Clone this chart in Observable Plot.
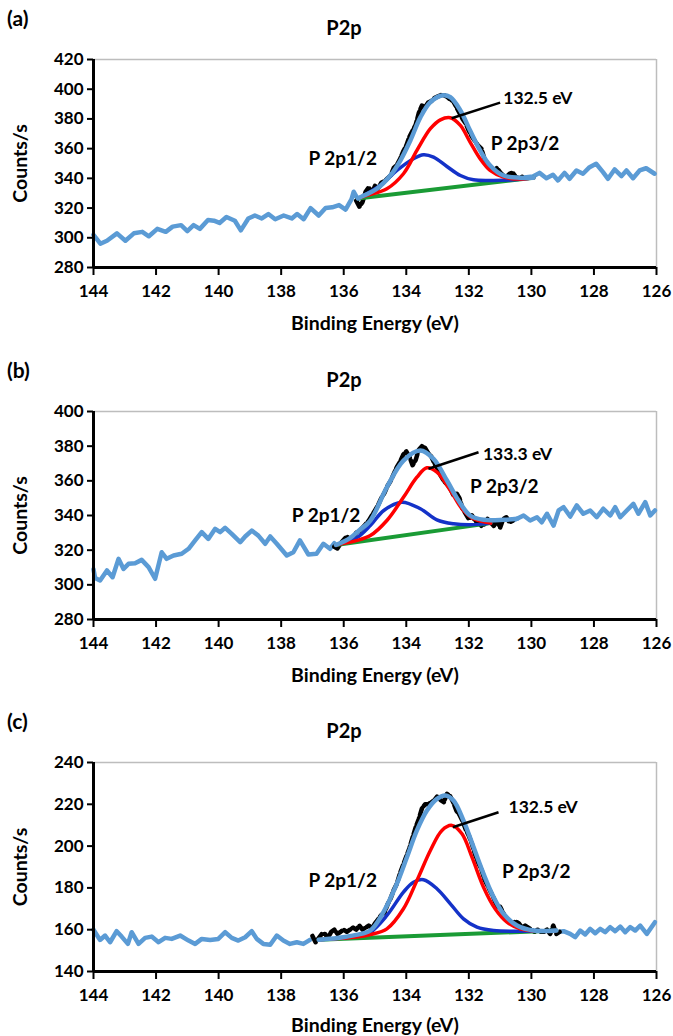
<!DOCTYPE html>
<html>
<head>
<meta charset="utf-8">
<script src="https://cdn.jsdelivr.net/npm/d3@7"></script>
<script src="https://cdn.jsdelivr.net/npm/@observablehq/plot@0.6"></script>
<style>
  html, body { margin: 0; padding: 0; background: #fff; }
  #wrap { position: relative; width: 673px; height: 1036px; font-family: Lato, "Open Sans", sans-serif; font-weight: bold; color: #000; overflow: hidden; }
  .panel { position: absolute; left: 0; width: 673px; }
  .tag { position: absolute; left: 7px; font-size: 21px; }
  .ttl { position: absolute; width: 120px; text-align: center; font-size: 20px; }
  .panel svg { position: absolute; left: 0; top: 0; }
</style>
</head>
<body>
<div id="wrap"></div>
<script>
// ---------- shared axis values ----------
const xTicks = [144, 142, 140, 138, 136, 134, 132, 130, 128, 126];
const yTicksA = [280, 300, 320, 340, 360, 380, 400, 420];
const yTicksB = [280, 300, 320, 340, 360, 380, 400];
const yTicksC = [140, 160, 180, 200, 220, 240];
const panelTags = ["(a)", "(b)", "(c)"];
const panelTitle = "P2p";
const xLabel = "Binding Energy (eV)";
const yLabel = "Counts/s";

// ---------- panel (a) ----------
const aRawLeft = [[144.0,302],[143.78,296],[143.57,298],[143.25,303],[142.98,298],[142.71,303],[142.44,304],[142.23,301],[141.96,306],[141.69,304],[141.47,307.5],[141.2,308.5],[141.0,304.5],[140.8,308.5],[140.6,306],[140.34,312],[140.15,311.5],[139.97,310],[139.75,314],[139.48,311.5],[139.29,305],[139.05,313],[138.84,315],[138.62,313],[138.41,316],[138.19,312.5],[137.92,315],[137.66,313],[137.49,316],[137.28,312.5],[137.06,320],[136.8,315],[136.58,320],[136.37,320.5],[136.15,322],[135.94,319],[135.75,326],[135.68,331],[135.55,326]];
const aRawRight = [[130.3,340.5],[129.95,341.3],[129.74,343.7],[129.52,340.1],[129.31,342.4],[129.15,338.6],[128.94,343.7],[128.78,339.7],[128.56,345.3],[128.35,343.1],[128.14,347.5],[127.93,349.8],[127.71,344.2],[127.55,339.7],[127.34,346],[127.12,341.5],[126.96,345.3],[126.75,340.1],[126.54,345.3],[126.33,346.8],[126.06,343.1]];
const aData = [[135.6,325],[135.5,321],[135.4,324],[135.3,331],[135.2,334],[135.1,330],[135.0,335],[134.9,333],[134.8,337],[134.7,338],[134.6,340],[134.5,342],[134.4,347],[134.3,349],[134.2,353],[134.1,358],[134.0,362],[133.9,368],[133.8,372],[133.7,376],[133.6,384],[133.5,389],[133.4,388],[133.3,391],[133.2,392],[133.1,394],[133.0,395],[132.9,396],[132.8,396],[132.7,395],[132.6,393],[132.5,392],[132.4,388],[132.3,384],[132.2,380],[132.1,377],[132.0,372],[131.9,368],[131.8,365],[131.7,362],[131.6,360],[131.5,353],[131.4,350],[131.3,348],[131.2,345],[131.1,347],[131.0,344],[130.9,342],[130.8,341],[130.7,343],[130.6,344],[130.5,341],[130.4,340],[130.3,341]];
const aEnvelope = [[135.55,326.5],[135.47,327.3],[134.94,333],[134.51,341.9],[134.19,352],[133.87,365.5],[133.55,381],[133.23,391.3],[132.86,395.8],[132.59,394.6],[132.27,385.7],[131.96,372.2],[131.64,358.8],[131.32,348.7],[130.89,341.9],[130.36,340.4],[129.93,340.4]];
const aP32 = [[135.55,326.5],[135.26,328.5],[134.62,333],[134.09,343.1],[133.66,358.8],[133.23,373.4],[132.91,379.4],[132.59,380.8],[132.27,375.6],[131.96,364.4],[131.64,353.2],[131.32,345.3],[130.89,340.8],[130.36,339.5],[129.93,340.4]];
const aP12 = [[135.55,326.5],[135.36,328.5],[134.83,335.2],[134.3,345.3],[133.77,353.2],[133.45,355.9],[133.13,354.3],[132.7,348],[132.27,341.9],[131.85,339],[131.21,338.6],[130.57,339],[129.93,340.4]];
const aBase = [[135.55,326.5],[129.93,340.4]];
const aLeader = [[132.55,380.5],[131.0,391]];
const aPeakLabel = [[130.9,393.5,"132.5 eV"]];
const aLabels = [[131.3,363,"P 2p3/2"],[137.13,353,"P 2p1/2"]];

// ---------- panel (b) ----------
const bRawLeft = [[144.0,309],[143.95,304],[143.79,302.5],[143.57,308.3],[143.39,304.4],[143.2,315],[143.04,309.2],[142.88,312.1],[142.67,312.5],[142.46,314.4],[142.24,310.2],[142.03,303.5],[141.82,318.8],[141.66,315],[141.44,316.9],[141.18,317.9],[140.96,320.8],[140.75,325.6],[140.54,330.4],[140.33,326.5],[140.11,332.3],[139.95,330.4],[139.79,332.9],[139.58,329.4],[139.31,324.6],[139.15,327.9],[138.94,331.3],[138.73,328.4],[138.51,323.7],[138.35,327.9],[138.14,323.7],[137.82,316.9],[137.61,318.8],[137.4,325.6],[137.13,317.5],[136.87,317.9],[136.65,323.7],[136.44,320.8],[136.3,324]];
const bRawRight = [[130.6,337],[130.46,338.1],[130.25,340],[130.04,337.1],[129.82,339],[129.67,336.1],[129.5,341],[129.29,334.2],[129.13,342.9],[128.97,344.8],[128.76,339.4],[128.55,345.8],[128.34,341],[128.12,342.9],[127.91,339],[127.7,343.9],[127.48,340],[127.32,344.8],[127.16,339],[126.95,342.9],[126.74,346.7],[126.58,341],[126.36,347.7],[126.2,340],[126.05,342.9]];
const bData = [[136.3,322],[136.2,321],[136.1,324],[136.0,326],[135.9,328],[135.8,326],[135.7,327],[135.6,330],[135.5,331],[135.4,333],[135.3,335],[135.2,337],[135.1,340],[135.0,343],[134.9,346],[134.8,350],[134.7,353],[134.6,357],[134.5,360],[134.4,364],[134.3,368],[134.2,371],[134.1,375],[134.0,377],[133.9,374],[133.8,369],[133.7,372],[133.6,378],[133.5,380],[133.4,379],[133.3,376],[133.2,374],[133.1,370],[133.0,367],[132.9,363],[132.8,360],[132.7,358],[132.6,356],[132.5,352],[132.4,353],[132.3,350],[132.2,344],[132.1,341],[132.0,338],[131.9,340],[131.8,337],[131.7,336],[131.6,334],[131.5,335],[131.4,338],[131.3,336],[131.2,334],[131.1,337],[131.0,333],[130.9,338],[130.8,339],[130.7,336],[130.6,337]];
const bEnvelope = [[136.25,323],[135.8,327],[135.5,331.5],[135.15,337.1],[134.62,356.3],[134.09,371.7],[133.55,377.5],[133.13,372.7],[132.7,360.2],[132.33,348.6],[131.96,340],[131.53,337.5],[130.89,337.5],[130.46,338.1]];
const bP32 = [[136.25,323],[135.6,325.5],[135.15,328.4],[134.62,337.1],[134.09,350.5],[133.66,362.1],[133.34,367.5],[133.02,365],[132.59,354.4],[132.22,343.9],[131.85,338.1],[131.3,335.6]];
const bP12 = [[136.25,323],[135.6,327],[135.15,334.2],[134.72,342.9],[134.14,347.7],[133.55,343.9],[133.02,337.5],[132.49,335.2],[131.96,334.6],[131.3,335.6]];
const bBase = [[136.25,323],[131.3,335.6]];
const bLeader = [[133.29,367],[131.69,376.5]];
const bPeakLabel = [[131.55,375.5,"133.3 eV"]];
const bLabels = [[131.96,356.3,"P 2p3/2"],[137.66,340,"P 2p1/2"]];

// ---------- panel (c) ----------
const cRawLeft = [[144.0,160],[143.95,158.8],[143.79,155.1],[143.63,157.2],[143.47,154],[143.26,159.3],[143.1,156.7],[142.9,153.2],[142.78,158.8],[142.56,153.2],[142.35,156.1],[142.14,156.7],[141.92,154],[141.71,156.1],[141.5,155.6],[141.23,157.2],[140.96,154.8],[140.75,153.2],[140.54,155.6],[140.27,155.1],[140.01,155.6],[139.79,158.8],[139.58,156.1],[139.37,154.8],[139.15,156.4],[138.94,159.3],[138.78,155.6],[138.57,153.2],[138.35,152.8],[138.14,157.2],[137.93,154.8],[137.72,153.2],[137.5,154],[137.29,153.2],[137.08,155.1]];
const cRawRight = [[129.1,159],[128.97,159.3],[128.76,158],[128.6,156.4],[128.44,159.6],[128.28,157.7],[128.12,160.4],[127.96,158.3],[127.8,160.4],[127.64,158.8],[127.48,161.2],[127.32,159.3],[127.16,161.5],[127.0,158.8],[126.84,161.2],[126.68,159.6],[126.52,162],[126.31,158],[126.05,163.6]];
const cData = [[137.0,157],[136.9,154],[136.8,156],[136.7,158],[136.6,158],[136.5,156],[136.4,159],[136.3,160],[136.2,158],[136.1,159],[136.0,160],[135.9,159],[135.8,160],[135.7,161],[135.6,160],[135.5,162],[135.4,160],[135.3,161],[135.2,162],[135.1,161],[135.0,163],[134.9,165],[134.8,167],[134.7,168],[134.6,172],[134.5,175],[134.4,179],[134.3,182],[134.2,187],[134.1,191],[134.0,195],[133.9,199],[133.8,204],[133.7,209],[133.6,213],[133.5,218],[133.4,220],[133.3,220],[133.2,221],[133.1,222],[133.0,224],[132.9,222],[132.8,221],[132.7,225],[132.6,224],[132.5,221],[132.4,217],[132.3,215],[132.2,212],[132.1,208],[132.0,205],[131.9,201],[131.8,196],[131.7,192],[131.6,189],[131.5,184],[131.4,181],[131.3,178],[131.2,175],[131.1,171],[131.0,171],[130.9,168],[130.8,165],[130.7,164],[130.6,163],[130.5,164],[130.4,163],[130.3,161],[130.2,162],[130.1,161],[130.0,160],[129.9,159],[129.8,160],[129.7,159],[129.6,159],[129.5,160],[129.4,158],[129.3,162],[129.2,158],[129.1,159]];
const cEnvelope = [[136.8,155.2],[136.2,156],[135.6,157.5],[135.15,159.6],[134.73,168.4],[134.3,182],[133.98,194.7],[133.66,207.5],[133.34,217],[133.02,222.6],[132.75,224.2],[132.49,221.8],[132.17,212.2],[131.85,199.5],[131.53,186.7],[131.21,175.6],[130.89,167.6],[130.46,162],[129.93,159.6],[129.2,159.6]];
const cP32 = [[136.8,155.2],[135.6,156.5],[135.15,157.7],[134.62,160.4],[134.09,170],[133.66,183.5],[133.23,197.9],[132.86,207.5],[132.54,209.9],[132.22,205.9],[131.9,194.7],[131.53,180.3],[131.16,170],[130.78,163.6],[130.36,160.4],[129.82,159.3],[129.2,159.6]];
const cP12 = [[136.8,155.2],[135.6,156.8],[135.15,158.8],[134.62,166.8],[134.09,178],[133.77,182.7],[133.45,183.9],[133.02,179.6],[132.59,172.4],[132.17,165.2],[131.74,161.2],[131.21,159.6],[130.46,159.3],[129.2,159.6]];
const cBase = [[136.8,155.2],[129.2,159.6]];
const cLeader = [[132.51,209],[131.05,216.2]];
const cPeakLabel = [[130.73,218.6,"132.5 eV"]];
const cLabels = [[130.94,187.5,"P 2p3/2"],[137.13,183.5,"P 2p1/2"]];

// ---------- colours ----------
const LIGHT_BLUE = "#5B9BD5";
const RED = "#FF0000";
const DARK_BLUE = "#1432C8";
const GREEN = "#1A9B35";

const panels = [
  {tag: panelTags[0], top: 0, yDomain: [280, 420], yTicks: yTicksA, h: 208, titleOffset: 60, rawL: aRawLeft, rawR: aRawRight, data: aData, env: aEnvelope, p32: aP32, p12: aP12, base: aBase, leader: aLeader, peak: aPeakLabel, labels: aLabels},
  {tag: panelTags[1], top: 352, yDomain: [280, 400], yTicks: yTicksB, h: 208, titleOffset: 60, rawL: bRawLeft, rawR: bRawRight, data: bData, env: bEnvelope, p32: bP32, p12: bP12, base: bBase, leader: bLeader, peak: bPeakLabel, labels: bLabels},
  {tag: panelTags[2], top: 703, yDomain: [140, 240], yTicks: yTicksC, h: 209, titleOffset: 58, rawL: cRawLeft, rawR: cRawRight, data: cData, env: cEnvelope, p32: cP32, p12: cP12, base: cBase, leader: cLeader, peak: cPeakLabel, labels: cLabels}
];

const wrap = document.getElementById("wrap");
const X = d => d[0], Y = d => d[1];

for (const p of panels) {
  const div = document.createElement("div");
  div.className = "panel";
  div.style.top = p.top + "px";
  div.style.height = "345px";
  const mTop = 59, mBottom = 76;
  const svg = Plot.plot({
    width: 673,
    height: mTop + p.h + mBottom,
    marginLeft: 93, marginRight: 17, marginTop: mTop, marginBottom: mBottom,
    style: {fontFamily: "Lato, 'Open Sans', sans-serif", fontSize: "17px", fontWeight: "bold", color: "#000", background: "transparent", overflow: "visible"},
    x: {domain: [144, 126]},
    y: {domain: p.yDomain},
    marks: [
      Plot.ruleY([p.yDomain[1]], {stroke: "#bdbdbd", strokeWidth: 1.5}),
      Plot.ruleX([126], {stroke: "#bdbdbd", strokeWidth: 1.5}),
      Plot.line(p.rawL, {x: X, y: Y, stroke: LIGHT_BLUE, strokeWidth: 4.5}),
      Plot.line(p.rawR, {x: X, y: Y, stroke: LIGHT_BLUE, strokeWidth: 4.5}),
      Plot.line(p.data, {x: X, y: Y, stroke: "#000", strokeWidth: 4.5, strokeDasharray: "7,3"}),
      Plot.line(p.base, {x: X, y: Y, stroke: GREEN, strokeWidth: 4}),
      Plot.line(p.p12, {x: X, y: Y, stroke: DARK_BLUE, strokeWidth: 3.5, curve: "catmull-rom"}),
      Plot.line(p.p32, {x: X, y: Y, stroke: RED, strokeWidth: 3.5, curve: "catmull-rom"}),
      Plot.line(p.env, {x: X, y: Y, stroke: LIGHT_BLUE, strokeWidth: 4.5, curve: "catmull-rom"}),
      Plot.link([p.leader], {x1: d => d[0][0], y1: d => d[0][1], x2: d => d[1][0], y2: d => d[1][1], stroke: "#000", strokeWidth: 2.5}),
      Plot.text(p.peak, {x: d => d[0], y: d => d[1], text: d => d[2], textAnchor: "start", fontSize: 17.5, fontWeight: "bold", fill: "#000"}),
      Plot.text(p.labels, {x: d => d[0], y: d => d[1], text: d => d[2], textAnchor: "start", fontSize: 19, fontWeight: "bold", fill: "#000"}),
      Plot.axisX({ticks: xTicks, tickSize: 8, tickPadding: 9, strokeWidth: 2, fontSize: 17}),
      Plot.axisX({ticks: [], label: xLabel, labelAnchor: "center", labelArrow: "none", labelOffset: p.titleOffset + 2, fontSize: 19.5}),
      Plot.axisY({ticks: p.yTicks, tickSize: 6, tickPadding: 4, strokeWidth: 2, fontSize: 17}),
      Plot.axisY({ticks: [], label: yLabel, labelAnchor: "center", labelArrow: "none", labelOffset: 80, fontSize: 19.5}),
      Plot.ruleX([144], {stroke: "#000", strokeWidth: 3}),
      Plot.ruleY([p.yDomain[0]], {stroke: "#000", strokeWidth: 3})
    ]
  });
  div.appendChild(svg);
  const tag = document.createElement("div");
  tag.className = "tag"; tag.textContent = p.tag; tag.style.top = "5px";
  const ttl = document.createElement("div");
  ttl.className = "ttl"; ttl.textContent = panelTitle; ttl.style.left = (344 - 60) + "px"; ttl.style.top = "15px";
  div.appendChild(tag); div.appendChild(ttl);
  wrap.appendChild(div);
}
</script>
</body>
</html>
